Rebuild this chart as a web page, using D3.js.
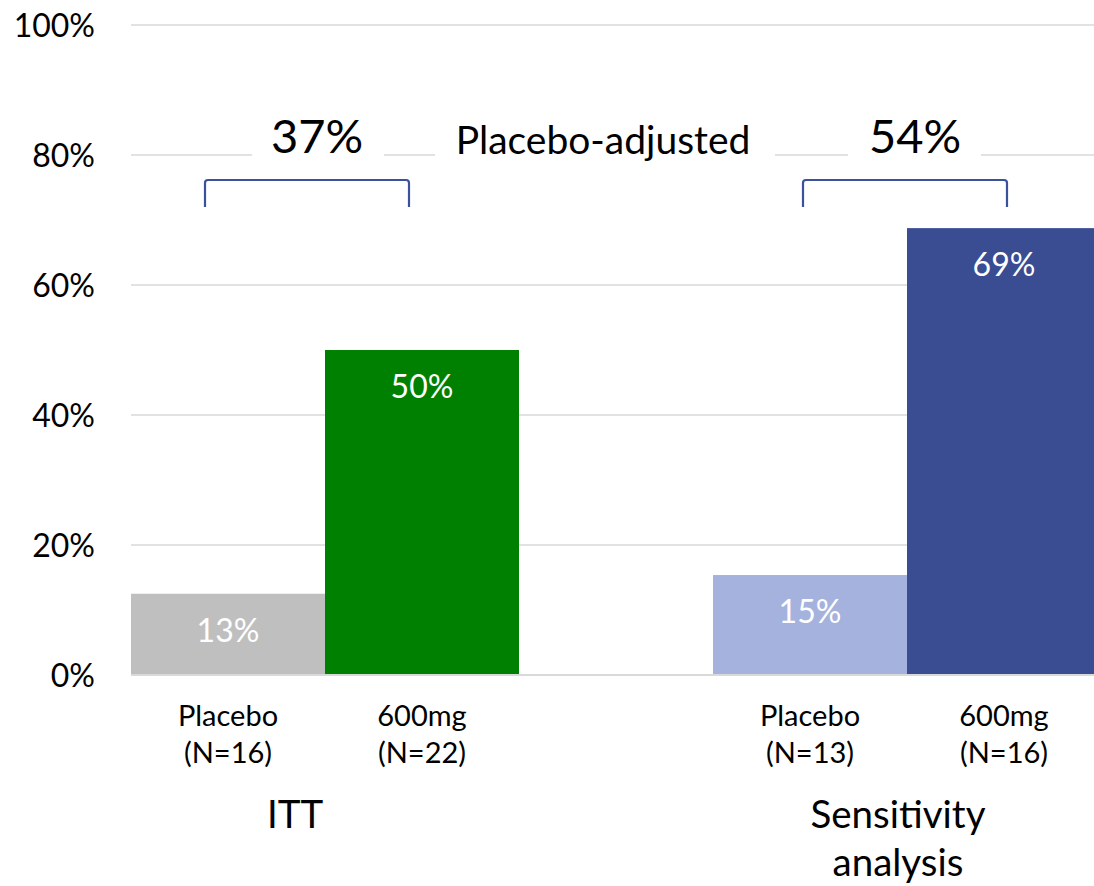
<!DOCTYPE html>
<html><head><meta charset="utf-8">
<script src="https://cdn.jsdelivr.net/npm/d3@7"></script>
<style>
html,body{margin:0;padding:0;background:#fff;}
svg{display:block;font-family:Lato, "Open Sans", sans-serif;}
</style></head>
<body>
<svg id="chart" width="1094" height="886"></svg>
<script>
// ---- data ----
const groups = ["ITT", "Sensitivity analysis"];
const arms = ["Placebo", "600mg"];
const armN = [["16", "22"], ["13", "16"]];
const values = [[12.5, 50], [15.38, 68.75]];
const valueLabels = [["13%", "50%"], ["15%", "69%"]];
const diffLabels = ["37%", "54%"];
const middleLabel = "Placebo-adjusted";
const yTicks = [0, 20, 40, 60, 80, 100];
const colors = [["#BFBFBF", "#008000"], ["#A5B2DE", "#3A4D93"]];

const svg = d3.select("#chart");
const x0 = d3.scaleBand().domain(groups).range([131, 1101]).paddingInner(1/3).paddingOuter(0);
const x1 = d3.scaleBand().domain(arms).range([0, x0.bandwidth()]).padding(0);
const y = d3.scaleLinear().domain([0, 100]).range([675, 25]);

// gridlines
svg.append("g").selectAll("line").data(yTicks.filter(d => d > 0)).join("line")
  .attr("x1", 131).attr("x2", 1094)
  .attr("y1", d => y(d)).attr("y2", d => y(d))
  .attr("stroke", "#D9D9D9").attr("stroke-width", 1.5);

// y axis labels
const yAxis = d3.axisLeft(y).tickValues(yTicks).tickFormat(d => d + "%").tickSize(0).tickPadding(0);
const ya = svg.append("g").attr("transform", "translate(95,0)").call(yAxis);
ya.select(".domain").remove();
ya.selectAll("text").attr("font-size", 32).attr("fill", "#000").attr("font-family", "Lato, sans-serif").attr("dy", "0.36em");

// bars
groups.forEach((g, gi) => {
  const gx = x0(g);
  arms.forEach((a, ai) => {
    const bx = gx + x1(a);
    svg.append("rect")
      .attr("x", bx).attr("width", x1.bandwidth())
      .attr("y", y(values[gi][ai])).attr("height", y(0) - y(values[gi][ai]))
      .attr("fill", colors[gi][ai]);
    svg.append("text")
      .attr("x", bx + x1.bandwidth() / 2).attr("y", y(values[gi][ai]) + 48)
      .attr("text-anchor", "middle").attr("font-size", 32).attr("fill", "#fff")
      .text(valueLabels[gi][ai]);
    const t = svg.append("text").attr("text-anchor", "middle").attr("font-size", 29).attr("fill", "#000");
    t.append("tspan").attr("x", bx + x1.bandwidth() / 2).attr("y", 726).text(a);
    t.append("tspan").attr("x", bx + x1.bandwidth() / 2).attr("y", 763).text("(N=" + armN[gi][ai] + ")");
  });
});

// baseline axis
svg.append("line").attr("x1", 131).attr("x2", 1094).attr("y1", y(0)).attr("y2", y(0))
  .attr("stroke", "#D9D9D9").attr("stroke-width", 2);

// group labels
const groupOffsets = [-30, -9];
groups.forEach((g, gi) => {
  const cx = x0(g) + x0.bandwidth() / 2 + groupOffsets[gi];
  const t = svg.append("text").attr("text-anchor", "middle").attr("font-size", 38.5).attr("fill", "#000");
  const words = gi === 1 ? ["Sensitivity", "analysis"] : [g];
  words.forEach((w, wi) => t.append("tspan").attr("x", cx).attr("y", 828 + wi * 48).text(w));
});

// white boxes behind the top annotations
const boxes = [[252, 384], [435, 775], [848, 981]];
svg.append("g").selectAll("rect").data(boxes).join("rect")
  .attr("x", d => d[0]).attr("width", d => d[1] - d[0])
  .attr("y", 110).attr("height", 60).attr("fill", "#fff");

// brackets
const bracketInsets = [[-23, -13], [-7, 3]];
groups.forEach((g, gi) => {
  const left = x0(g) + x1("Placebo") + x1.bandwidth() / 2 + bracketInsets[gi][0];
  const right = x0(g) + x1("600mg") + x1.bandwidth() / 2 + bracketInsets[gi][1];
  const top = 180, bot = 207, r = 3;
  svg.append("path")
    .attr("d", `M${left},${bot} L${left},${top + r} Q${left},${top} ${left + r},${top} L${right - r},${top} Q${right},${top} ${right},${top + r} L${right},${bot}`)
    .attr("fill", "none").attr("stroke", "#3B519B").attr("stroke-width", 2.2);
  svg.append("text")
    .attr("x", (left + right) / 2 + 10).attr("y", 153)
    .attr("text-anchor", "middle").attr("font-size", 47).attr("fill", "#000")
    .text(diffLabels[gi]);
});

svg.append("text").attr("x", 603).attr("y", 154).attr("text-anchor", "middle")
  .attr("font-size", 39).attr("fill", "#000").text(middleLabel);
</script>
</body></html>
